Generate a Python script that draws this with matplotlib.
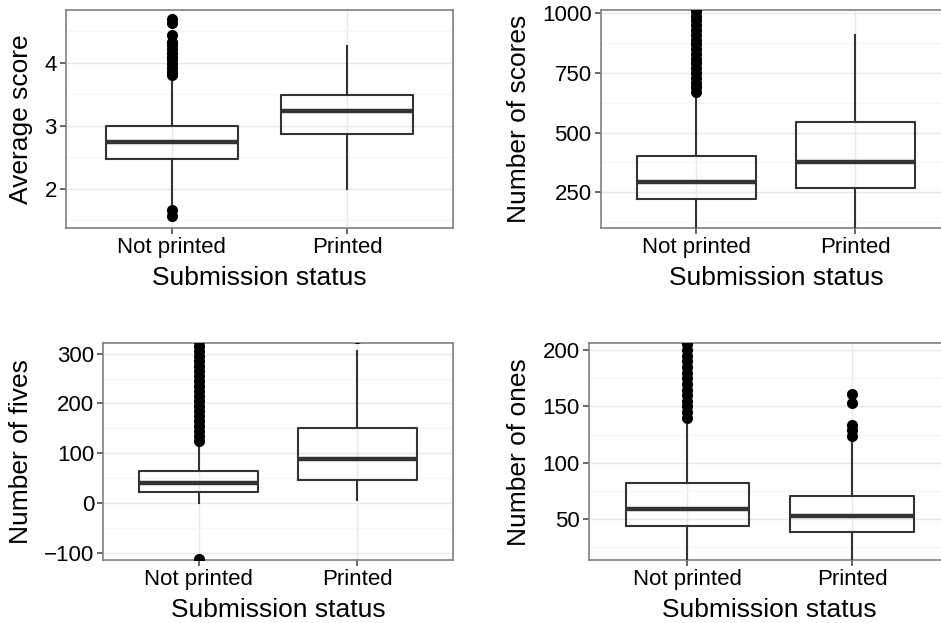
import matplotlib.pyplot as plt

plt.rcParams['font.family'] = ['Liberation Sans', 'DejaVu Sans']

categories = ["Not printed", "Printed"]

# box stats per panel: (q1, median, q3, whisker low, whisker high)
avg_stats = [(2.47, 2.75, 3.00, 1.70, 3.80), (2.87, 3.24, 3.49, 2.00, 4.27)]
avg_fliers = [
    [1.57, 1.66, 3.81, 3.86, 3.92, 3.98, 4.04, 4.10, 4.16, 4.22, 4.28, 4.33, 4.44, 4.64, 4.69],
    [],
]

nscores_stats = [(221, 292, 403, 60, 665), (267, 378, 546, 60, 911)]
nscores_fliers = [
    [670, 690, 710, 730, 750, 770, 790, 810, 830, 850, 870, 890, 910, 930, 950, 970, 990, 1010, 1030],
    [],
]

fives_stats = [(22, 39, 64, 0, 120), (45, 89, 150, 6, 305)]
fives_fliers = [
    [-112, 125, 135, 145, 155, 165, 175, 185, 195, 205, 215, 225, 235, 245, 255, 265, 275,
     285, 295, 305, 315, 325],
    [331],
]

ones_stats = [(44, 59, 82, 5, 138), (38.5, 53, 71, 5, 120)]
ones_fliers = [
    [140, 145, 150, 155, 160, 165, 170, 175, 180, 185, 190, 195, 200, 205, 210],
    [124, 129, 134, 153, 161],
]

panels = [
    dict(stats=avg_stats, fliers=avg_fliers, ylabel="Average score", ylim=(1.38, 4.84),
         ticks=[2, 3, 4], minor=[1.5, 2.5, 3.5, 4.5], pos=[66, 10, 453, 228]),
    dict(stats=nscores_stats, fliers=nscores_fliers, ylabel="Number of scores", ylim=(100, 1014),
         ticks=[250, 500, 750, 1000], minor=[125, 375, 625, 875], pos=[600.7, 10, 951, 228]),
    dict(stats=fives_stats, fliers=fives_fliers, ylabel="Number of fives", ylim=(-115, 321),
         ticks=[-100, 0, 100, 200, 300], minor=[-50, 50, 150, 250], pos=[103.3, 343.3, 452.7, 560]),
    dict(stats=ones_stats, fliers=ones_fliers, ylabel="Number of ones", ylim=(13.9, 206),
         ticks=[50, 100, 150, 200], minor=[25, 75, 125, 175], pos=[588.7, 343.3, 950.8, 560]),
]

W, H = 941, 623
fig = plt.figure(figsize=(W / 100, H / 100), dpi=100)

dark = "#333333"
for p in panels:
    x0, y0, x1, y1 = p["pos"]
    ax = fig.add_axes([x0 / W, 1 - y1 / H, (x1 - x0) / W, (y1 - y0) / H])

    bxp_stats = []
    for (q1, med, q3, lo, hi), fl in zip(p["stats"], p["fliers"]):
        bxp_stats.append(dict(q1=q1, med=med, q3=q3, whislo=lo, whishi=hi, fliers=fl))

    ax.bxp(bxp_stats, positions=[1, 2], widths=0.75, showcaps=False,
           boxprops=dict(color=dark, linewidth=1.5),
           whiskerprops=dict(color=dark, linewidth=1.5),
           medianprops=dict(color=dark, linewidth=3.2, solid_capstyle="butt"),
           flierprops=dict(marker="o", markerfacecolor="black", markeredgecolor="black",
                           markersize=7, linestyle="none"),
           zorder=3)

    ax.set_xlim(0.4, 2.6)
    ax.set_ylim(*p["ylim"])
    ax.set_xticks([1, 2])
    ax.set_xticklabels(categories)
    ax.set_yticks(p["ticks"])
    ax.set_yticks(p["minor"], minor=True)

    ax.grid(True, which="major", color="#E8E8E8", linewidth=1.0, zorder=0)
    ax.grid(True, which="minor", axis="y", color="#F5F5F5", linewidth=1.0, zorder=0)
    ax.set_axisbelow(True)

    for s in ax.spines.values():
        s.set_color("#7F7F7F")
        s.set_linewidth(1.2)

    ax.tick_params(axis="both", which="major", length=4.5, width=1.2, color="#4D4D4D",
                   labelsize=16, labelcolor="black", pad=2)
    ax.tick_params(axis="y", which="minor", length=0)
    ax.set_xlabel("Submission status", fontsize=19, labelpad=6)
    ax.set_ylabel(p["ylabel"], fontsize=19, labelpad=8)

fig.savefig("out.png", dpi=100)
